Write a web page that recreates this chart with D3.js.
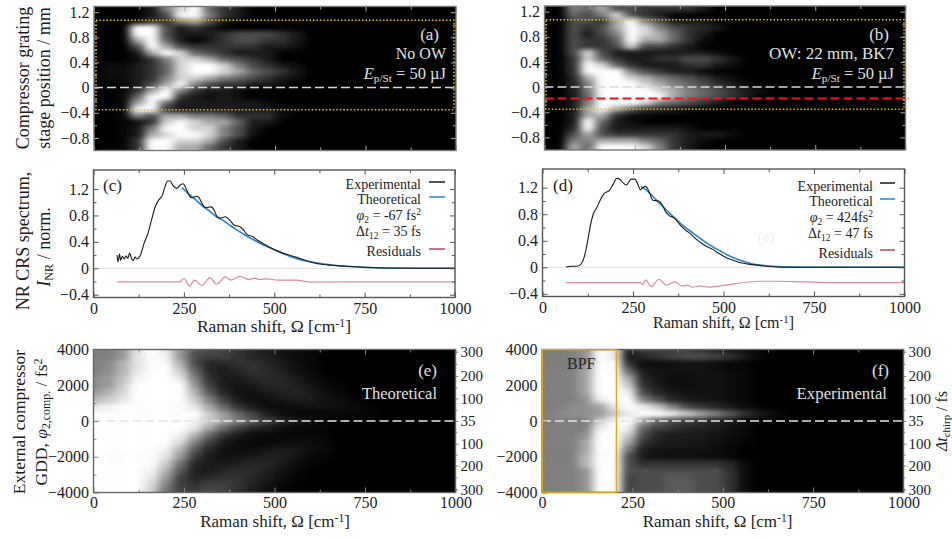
<!DOCTYPE html>
<html>
<head>
<meta charset="utf-8">
<script src="https://cdn.jsdelivr.net/npm/d3@7"></script>
<style>
	html, body { margin: 0; background: #fff; }
	text { font-family: "Liberation Serif", serif; }
</style>
</head>
<body>
<script>
// grey level 0 (black) .. 10 (white); a row that stops early is black from there on
const mapShift = [0, 40, 80, 120, 160, 200, 240, 280, 320, 360, 400, 440, 480, 520, 560, 600, 640, 680, 720, 760];

const stageRows = [1.25, 1.15, 1.05, 0.95, 0.85, 0.75, 0.65, 0.55, 0.45, 0.35, 0.25, 0.15, 0.05, -0.05, -0.15, -0.25, -0.35, -0.45, -0.55, -0.65, -0.75, -0.85, -0.95];
const gddRows = [4000, 3600, 3200, 2800, 2400, 2000, 1600, 1200, 800, 400, 0, -400, -800, -1200, -1600, -2000, -2400, -2800, -3200, -3600, -4000];

const mapA = [
	[0, 0, 0, 0, 1, 5, 7, 8, 4, 2, 1],
	[0, 0, 0, 0, 1, 3, 8, 9, 5, 2, 1],
	[0, 0, 0, 0.5, 2, 2, 5, 6, 3, 1],
	[0, 0, 0, 8, 8, 3, 1, 2, 1, 0],
	[0, 0, 0, 8, 9, 3, 1, 1, 1, 2, 3, 3, 3, 2, 1],
	[0, 0, 0, 6, 9, 4, 1, 0, 1, 2, 3, 3, 2, 2, 1],
	[0, 0, 0, 3, 8, 6, 3, 2, 2, 2, 2, 2, 1, 1, 0.5],
	[0, 0, 0, 1, 6, 9, 7, 4, 3, 2, 1, 1, 1],
	[0, 0, 0, 0.5, 2, 5, 7, 7, 6, 4, 3, 2, 1],
	[0, 0.5, 0.5, 1, 2, 4, 7, 9, 9, 7, 5, 3, 2, 1, 0.5],
	[0, 0.5, 0.5, 1, 2, 4, 7, 10, 9, 7, 6, 4, 3, 2, 1],
	[0, 0.5, 0.5, 1, 2, 5, 7, 7, 6, 5, 4, 3, 2, 1, 0.5],
	[0, 0, 0.3, 1, 3, 6, 8, 5, 3, 2, 2, 1, 1, 0.5],
	[0, 0, 0.3, 2, 6, 9, 5, 2, 1, 1, 0.5],
	[0, 0, 0.3, 4, 8, 8, 2, 1, 0.5, 1, 0.5],
	[0, 0, 0.3, 6, 9, 4, 1, 1, 1, 1, 1, 1, 0.5],
	[0, 0, 0.3, 8, 8, 2, 1, 1, 1, 1, 1, 1, 1, 0.5],
	[0, 0, 0.3, 5, 3, 6, 6, 5, 5, 4, 2, 2, 2, 0.5],
	[0, 0, 0.2, 0.5, 2, 7, 8, 7, 6, 6, 4, 1, 1],
	[0, 0, 0.2, 1, 5, 8, 9, 7, 7, 5, 3, 1],
	[0, 0, 0.2, 1, 6, 7, 8, 8, 7, 5, 3, 0.5],
	[0, 0, 0.2, 2, 8, 9, 7, 7, 6, 3, 1],
	[0, 0.2, 0.2, 2, 9, 9, 6, 6, 4, 2, 1]
];

const mapB = [
	[0, 0, 5, 4, 6, 3, 3, 2, 2, 2, 2, 1],
	[0, 0, 4, 3, 5, 7, 3, 2, 1],
	[0, 0, 3, 3, 2, 6, 8, 5, 3, 1, 1, 1],
	[0, 0, 3, 2, 3, 6, 9, 7, 5, 3, 2, 1.5, 1],
	[0, 0, 3, 1, 3, 5, 9, 7, 6, 4, 2, 1],
	[0, 0, 3, 2, 2, 4, 9, 6, 6, 4, 2, 0.5],
	[0, 0, 3, 2, 2, 3, 7, 3, 3, 2, 1],
	[0, 0, 3, 7, 3, 1, 1, 1, 1, 1, 1, 1, 0.5],
	[0, 0, 2, 7, 4, 2, 1, 1, 2, 2, 3, 3, 2, 1],
	[0, 0, 2, 8, 7, 4, 2, 1, 1, 1, 2, 2, 1, 0.5],
	[0, 0, 2, 8, 9, 8, 5, 3, 2, 1, 1, 0.5],
	[0, 0, 1.5, 6, 9, 10, 7, 6, 5, 4, 3, 2, 1, 0.5],
	[0, 0, 1.5, 5, 9, 10, 9, 7, 6, 5, 4, 3, 2, 1, 0.5],
	[0, 0, 1, 5, 10, 10, 10, 9, 7, 6, 5, 4, 3, 2, 1, 0.5],
	[0, 0, 1, 4, 10, 10, 10, 9, 8, 6, 5, 4, 3, 2, 1],
	[0, 0, 1, 5, 9, 10, 9, 7, 5, 4, 3, 2, 1],
	[0, 0, 1, 6, 9, 6, 4, 2, 1.5, 1, 0.5],
	[0, 0, 1, 6, 6, 2, 0.5, 0.3],
	[0, 0, 1, 8, 4, 1, 0.5],
	[0, 0, 1.5, 8, 3, 1, 1, 1, 1, 1, 0.5],
	[0, 0, 3, 6, 3, 2, 2, 2, 2, 2, 1, 1, 1, 0.5],
	[0, 0, 5, 5, 6, 6, 6, 5, 4, 2, 1, 0.5],
	[0, 0, 6, 4, 8, 9, 8, 7, 5, 2, 1]
];

const mapE = [
	[5, 5, 6, 9, 10, 9, 6, 3.5, 3, 2.5, 2, 1.5, 1, 0.7, 0.5, 0.3],
	[5, 5, 6, 9, 10, 9.5, 6, 3, 2.5, 2.5, 2, 1.5, 1.2, 0.7, 0.5, 0.3],
	[5, 5.5, 7, 9, 10, 10, 7, 3, 1.5, 1.5, 2, 2, 1.5, 1, 0.6, 0.3],
	[5, 5.5, 7, 9, 10, 10, 8, 4, 1.5, 1, 1.5, 2, 1.7, 1.2, 0.7, 0.4],
	[5.5, 6, 7.5, 9.5, 10, 10, 9, 5, 2, 1, 1, 1.5, 1.7, 1.5, 1, 0.5, 0.2],
	[5.5, 6, 8, 10, 10, 10, 10, 6, 2.5, 1, 0.8, 1, 1.5, 1.5, 1.2, 0.8, 0.4, 0.2],
	[6, 7, 8.5, 10, 10, 10, 10, 7, 3.5, 1.5, 0.7, 0.7, 1, 1.3, 1.3, 1, 0.6, 0.3],
	[7, 8, 9, 10, 10, 10, 10, 8, 5, 2.5, 1, 0.6, 0.6, 0.9, 1.1, 1.1, 0.8, 0.5, 0.2],
	[9, 9.5, 10, 10, 10, 10, 10, 9, 6.5, 4, 2, 1, 0.5, 0.5, 0.6, 0.7, 0.7, 0.6, 0.4, 0.2],
	[10, 10, 10, 10, 10, 10, 10, 10, 8, 6, 4, 2.5, 1.2, 0.6, 0.3, 0.3, 0.3, 0.3, 0.3, 0.2],
	[10, 10, 10, 10, 10, 10, 10, 9.5, 8, 6.5, 5, 3.5, 2.5, 1.5, 1, 0.6, 0.3, 0.2],
	[10, 10, 10, 10, 10, 10, 10, 9, 6.5, 4, 2.5, 1.5, 1, 0.6, 0.3, 0.2, 0.2],
	[10, 10, 10, 10, 10, 10, 9.5, 7, 4, 2, 1, 0.5, 0.3, 0.3, 0.3, 0.3, 0.2],
	[10, 10, 10, 10, 10, 10, 8.5, 5, 2.5, 1, 0.5, 0.3, 0.3, 0.5, 0.6, 0.5, 0.3],
	[10, 10, 10, 10, 10, 9.5, 7, 3.5, 1.5, 0.7, 0.5, 0.5, 0.8, 1, 0.9, 0.6, 0.3],
	[10, 10, 10, 10, 10, 9, 6, 2.5, 1, 0.7, 0.8, 1, 1.2, 1.2, 0.8, 0.4, 0.2],
	[10, 10, 10, 10, 10, 8, 4.5, 1.5, 1, 1, 1.2, 1.5, 1.5, 1, 0.5, 0.2],
	[10, 10, 10, 10, 9.5, 7, 3.5, 1.2, 1, 1.5, 1.8, 1.7, 1.2, 0.7, 0.3],
	[10, 10, 10, 10, 9, 6, 2.5, 1.5, 1.7, 2, 2, 1.5, 1, 0.5, 0.2],
	[10, 10, 10, 10, 8.5, 5, 2.5, 2, 2.5, 2.5, 2, 1.2, 0.7, 0.3],
	[10, 10, 10, 10, 8, 4.5, 2.5, 2.5, 3, 2.5, 1.7, 1, 0.5, 0.2]
];

const mapF = [
	[5, 5, 5, 5.5, 9, 8, 1.5, 2.5, 2.5, 2.5, 2.5, 2, 1.5, 1, 0.5, 0.2],
	[5, 5, 5, 5.5, 9, 8, 1, 1.5, 2, 2.5, 3, 3, 2.5, 2, 1, 0.3],
	[5, 5, 5, 5.5, 9, 9, 2, 0.5, 0.5, 0.5, 0.7, 0.7, 0.5, 0.3, 0.2],
	[5, 5, 5, 6, 9.5, 10, 4, 1, 0.8, 0.8, 0.8, 0.8, 0.7, 0.4, 0.3],
	[5, 5, 5, 6, 9.5, 10, 6, 1.5, 0.8, 0.6, 0.6, 0.7, 0.7, 0.5, 0.3],
	[5, 5, 5, 6, 9.5, 10, 7, 2, 1, 0.6, 0.6, 0.7, 0.7, 0.5, 0.3],
	[5, 5, 5, 6, 9, 10, 8, 3, 1.5, 1, 0.7, 0.7, 0.7, 0.5, 0.3],
	[5, 5, 5, 5.5, 8, 10, 9, 5, 3, 1.5, 1, 0.9, 0.8, 0.5, 0.3],
	[5, 5, 5.3, 5.5, 6, 8, 9, 8, 7, 5, 3, 2, 1.5, 1, 0.5, 0.2],
	[5, 5.2, 5.5, 5.5, 5.8, 7, 8, 8.5, 9, 8, 7, 6, 5, 3.5, 2, 1, 0.5],
	[5, 5, 5, 5, 7, 9, 9, 6, 4, 3, 2.5, 2, 1.5, 1, 0.5, 0.2],
	[5, 5, 5, 5, 8, 10, 8, 4, 2.5, 2, 1.5, 1.2, 1, 0.7, 0.3],
	[5, 5, 5, 5.5, 9, 10, 7, 3, 1.5, 1, 1, 1, 0.8, 0.5, 0.3],
	[5, 5, 5, 6, 9.5, 10, 6, 2, 1.2, 1, 1, 0.9, 0.7, 0.4, 0.2],
	[5, 5, 5, 6, 9.5, 9.5, 4.5, 1.2, 0.8, 0.7, 0.7, 0.7, 0.5, 0.3],
	[5, 5, 5, 6.5, 10, 9, 3, 1, 0.7, 0.7, 0.7, 0.6, 0.5, 0.3],
	[5, 5, 5, 6.5, 10, 9, 3, 2, 2, 2, 2, 2, 2, 1.5, 0.5],
	[5, 5, 5, 5.5, 10, 9, 3, 3, 3, 3, 3, 3, 3, 2, 0.5],
	[5, 5, 5, 5.5, 10, 9, 2.5, 3, 3, 3.5, 3.5, 3, 3, 2, 0.5],
	[5, 5, 5, 5.5, 10, 9, 2.5, 3, 3, 3.5, 3.5, 3, 3, 2, 0.5],
	[5, 5, 5, 5.5, 10, 9, 2.5, 3, 3, 3.5, 3.5, 3, 3, 2, 0.5]
];

// spectra, [Raman shift, intensity]
const expC = [[65, 0.2], [68, 0.1], [72, 0.22], [75, 0.12], [80, 0.18], [85, 0.14], [90, 0.19], [95, 0.15], [100, 0.23], [105, 0.15], [110, 0.12], [115, 0.17], [120, 0.14], [130, 0.2], [140, 0.38], [150, 0.52], [160, 0.72], [170, 0.92], [180, 1.03], [190, 1.1], [197, 1.22], [205, 1.32], [212, 1.32], [220, 1.25], [230, 1.21], [240, 1.26], [248, 1.28], [255, 1.22], [265, 1.1], [272, 1.07], [285, 1.09], [292, 1.07], [300, 0.98], [310, 0.92], [325, 0.93], [332, 0.9], [342, 0.78], [350, 0.76], [365, 0.78], [375, 0.74], [390, 0.65], [405, 0.63], [415, 0.58], [425, 0.51], [440, 0.48], [455, 0.42], [470, 0.37], [490, 0.31], [510, 0.26], [530, 0.22], [560, 0.17], [590, 0.11], [620, 0.07], [660, 0.045], [700, 0.03], [750, 0.015], [800, 0.005], [900, 0], [1000, 0]];
const fitC = [[245, 1.22], [260, 1.14], [280, 1.05], [300, 0.95], [320, 0.87], [340, 0.78], [360, 0.72], [380, 0.64], [400, 0.57], [420, 0.5], [440, 0.44], [460, 0.38], [480, 0.33], [500, 0.28], [530, 0.21], [560, 0.15], [590, 0.11], [620, 0.08], [660, 0.05], [700, 0.03], [750, 0.015], [800, 0.005], [900, 0], [1000, 0]];
const resC = [[65, -0.205], [240, -0.205], [247, -0.16], [252, -0.16], [265, -0.27], [280, -0.18], [300, -0.26], [322, -0.14], [340, -0.24], [365, -0.13], [380, -0.18], [405, -0.12], [430, -0.17], [445, -0.15], [460, -0.17], [480, -0.16], [510, -0.18], [560, -0.18], [600, -0.21], [700, -0.205], [1000, -0.205]];

const expD = [[65, 0.005], [80, 0.015], [95, 0.015], [105, 0.04], [115, 0.15], [125, 0.4], [132, 0.62], [140, 0.8], [150, 0.9], [160, 1.02], [170, 1.11], [185, 1.16], [195, 1.25], [205, 1.34], [215, 1.32], [225, 1.26], [232, 1.24], [245, 1.33], [255, 1.33], [265, 1.23], [270, 1.17], [277, 1.2], [285, 1.22], [295, 1.13], [305, 1.01], [320, 1], [330, 0.95], [340, 0.84], [350, 0.78], [365, 0.74], [380, 0.64], [395, 0.56], [410, 0.5], [425, 0.42], [440, 0.36], [455, 0.31], [470, 0.27], [490, 0.2], [510, 0.14], [530, 0.1], [555, 0.06], [580, 0.04], [610, 0.02], [650, 0.005], [700, 0], [1000, 0]];
const fitD = [[272, 1.22], [290, 1.15], [310, 1.04], [330, 0.93], [350, 0.82], [370, 0.72], [390, 0.62], [410, 0.54], [430, 0.46], [450, 0.38], [470, 0.31], [490, 0.25], [510, 0.19], [530, 0.14], [550, 0.1], [580, 0.05], [610, 0.03], [650, 0.01], [700, 0.003], [800, 0], [1000, 0]];
const resD = [[65, -0.23], [270, -0.23], [277, -0.26], [285, -0.19], [300, -0.29], [322, -0.18], [342, -0.27], [365, -0.22], [385, -0.28], [400, -0.27], [415, -0.3], [435, -0.28], [460, -0.3], [490, -0.28], [530, -0.25], [600, -0.21], [650, -0.21], [720, -0.22], [800, -0.23], [1000, -0.23]];

const shiftMajor = [0, 250, 500, 750, 1000];
const shiftMinor = [125, 375, 625, 875];
const stageMajor = [1.2, 0.8, 0.4, 0, -0.4, -0.8];
const stageMinor = [1.0, 0.6, 0.2, -0.2, -0.6];
const spectrumMajor = [1.2, 0.8, 0.4, 0, -0.4];
const spectrumMinor = [1.0, 0.6, 0.2, -0.2];
const gddMajor = [4000, 2000, 0, -2000, -4000];
const gddMinor = [3000, 1000, -1000, -3000];
// the Δt axis is not linear in GDD, so each label sits at its own GDD
const chirpGdd = [3880, 2510, 1260, 0, -1270, -2500, -3840];
const chirpLabels = ["300", "200", "100", "35", "100", "200", "300"];
const chirpMinor = [3200, 1880, 630, -630, -1880, -3150];

const svg = d3.select("body").append("svg")
	.attr("width", 952)
	.attr("height", 539)
	.style("display", "block");

const defs = svg.append("defs");
defs.append("filter")
	.attr("id", "mapBlur")
	.attr("filterUnits", "userSpaceOnUse")
	.attr("x", 0).attr("y", 0).attr("width", 952).attr("height", 539)
	.attr("color-interpolation-filters", "sRGB")
	.append("feGaussianBlur")
	.attr("stdDeviation", "5 2");

// blur eats the narrow ridges, so the measured maps reach white a little early
const greyStage = d3.scaleLinear().domain([0, 5, 8]).range(["#000", "#808080", "#fff"]).clamp(true);
const greyTheory = d3.scaleLinear().domain([0, 10]).range(["#000", "#fff"]);
const greyExp = d3.scaleLinear().domain([0, 5, 8.5]).range(["#000", "#808080", "#fff"]).clamp(true);

const formatLabel = d => d === 0 ? "0" : (Math.abs(d) >= 10 ? d3.format("d")(d) : d3.format(".1f")(d));
const tickFont = 16;

// text with italic / sub / sup pieces: [string, "i" | "sub" | "sup" | "isub"...]
function rich(sel, parts) {
	let shift = 0;
	parts.forEach(([txt, kind = ""]) => {
		const ts = sel.append("tspan").text(txt);
		let want = 0;
		if (kind.includes("sub")) { want = 3; ts.attr("font-size", "0.68em"); }
		if (kind.includes("sup")) { want = -5; ts.attr("font-size", "0.68em"); }
		if (kind.includes("i")) ts.attr("font-style", "italic");
		if (want !== shift) ts.attr("dy", want - shift);
		shift = want;
	});
	return sel;
}

function label(g, x, y, parts, opts = {}) {
	const t = g.append("text")
		.attr("x", x)
		.attr("y", y)
		.attr("font-size", opts.size || 16)
		.attr("fill", opts.fill || "#1c1c1c")
		.attr("text-anchor", opts.anchor || "end");
	if (opts.rotate) t.attr("transform", `rotate(-90, ${x}, ${y})`);
	if (typeof parts === "string") t.text(parts);
	else rich(t, parts);
	return t;
}

function drawAxes(g, x, y, cfg) {
	const inner = cfg.tickColor;
	const addAxis = (axis, transform, labelled, size) => {
		const a = g.append("g").attr("transform", transform).call(axis);
		a.select(".domain").remove();
		a.selectAll("line").attr("stroke", inner).attr("stroke-width", 1);
		a.selectAll("text")
			.attr("font-family", "Liberation Serif")
			.attr("font-size", size || tickFont)
			.attr("fill", "#1c1c1c");
		if (!labelled) a.selectAll("text").remove();
		return a;
	};
	const [x0, x1] = x.range();
	const [y0, y1] = y.range();

	// bottom / top
	addAxis(d3.axisBottom(x).tickValues(shiftMajor).tickSize(-5).tickPadding(cfg.xPad).tickFormat(d3.format("d")), `translate(0, ${y0})`, cfg.xLabels);
	addAxis(d3.axisBottom(x).tickValues(shiftMinor).tickSize(-3), `translate(0, ${y0})`, false);
	addAxis(d3.axisTop(x).tickValues(shiftMajor).tickSize(-5), `translate(0, ${y1})`, false);
	addAxis(d3.axisTop(x).tickValues(shiftMinor).tickSize(-3), `translate(0, ${y1})`, false);

	// left / right
	addAxis(d3.axisLeft(y).tickValues(cfg.yMajor).tickSize(-5).tickPadding(4.5).tickFormat(formatLabel), `translate(${x0}, 0)`, true);
	addAxis(d3.axisLeft(y).tickValues(cfg.yMinor).tickSize(-3), `translate(${x0}, 0)`, false);
	if (cfg.chirp) {
		addAxis(d3.axisRight(y).tickValues(chirpGdd).tickSize(3).tickPadding(2).tickFormat((d, i) => chirpLabels[i]), `translate(${x1}, 0)`, true, 15);
		addAxis(d3.axisRight(y).tickValues(chirpMinor).tickSize(2), `translate(${x1}, 0)`, false);
	} else {
		addAxis(d3.axisRight(y).tickValues(cfg.yMajor).tickSize(-5), `translate(${x1}, 0)`, false);
		addAxis(d3.axisRight(y).tickValues(cfg.yMinor).tickSize(-3), `translate(${x1}, 0)`, false);
	}

	g.append("rect")
		.attr("x", x0).attr("y", y1)
		.attr("width", x1 - x0).attr("height", y0 - y1)
		.attr("fill", "none")
		.attr("stroke", cfg.frameColor)
		.attr("stroke-width", 1.4);
}

function drawMap(name, box, rows, grid, yDomain, grey) {
	const g = svg.append("g").attr("id", name);
	const x = d3.scaleLinear().domain([0, 1000]).range([box.x0, box.x1]);
	const y = d3.scaleLinear().domain(yDomain).range([box.y1, box.y0]);

	const clipId = `clip-${name}`;
	defs.append("clipPath").attr("id", clipId).append("rect")
		.attr("x", box.x0).attr("y", box.y0)
		.attr("width", box.x1 - box.x0).attr("height", box.y1 - box.y0);

	g.append("rect")
		.attr("x", box.x0).attr("y", box.y0)
		.attr("width", box.x1 - box.x0).attr("height", box.y1 - box.y0)
		.attr("fill", "#000");

	const colStep = mapShift[1] - mapShift[0];
	const rowStep = Math.abs(rows[1] - rows[0]);
	const cells = [];
	grid.forEach((row, r) => row.forEach((v, c) => cells.push({ r, c, v })));

	// outer cells run past the frame so the blur doesn't fade at the edges
	g.append("g").attr("clip-path", `url(#${clipId})`)
		.append("g").attr("filter", "url(#mapBlur)")
		.selectAll("rect")
		.data(cells)
		.join("rect")
		.attr("x", d => x(mapShift[d.c] - colStep / 2) - (d.c === 0 ? 20 : 0))
		.attr("width", d => x(colStep) - x(0) + 0.5 + (d.c === 0 ? 20 : 0))
		.attr("y", d => y(rows[d.r] + rowStep / 2) - (d.r === 0 ? 20 : 0))
		.attr("height", d => y(0) - y(rowStep) + 0.5 + (d.r === 0 || d.r === rows.length - 1 ? 20 : 0))
		.attr("fill", d => grey(d.v));

	return { g, x, y };
}

function drawSpectrum(name, box, yZero, y12, series) {
	const g = svg.append("g").attr("id", name);
	const x = d3.scaleLinear().domain([0, 1000]).range([box.x0, box.x1]);
	const unit = (yZero - y12) / 1.2;
	const y = d3.scaleLinear()
		.domain([(yZero - box.y1) / unit, (yZero - box.y0) / unit])
		.range([box.y1, box.y0]);

	g.append("line")
		.attr("x1", x(0)).attr("x2", x(1000))
		.attr("y1", y(0)).attr("y2", y(0))
		.attr("stroke", "#aaa")
		.attr("stroke-width", 0.8)
		.attr("stroke-dasharray", "1 1");

	const line = d3.line().x(d => x(d[0])).y(d => y(d[1])).curve(d3.curveMonotoneX);
	series.forEach(s => {
		g.append("path")
			.datum(s.data)
			.attr("d", line)
			.attr("fill", "none")
			.attr("stroke", s.color)
			.attr("stroke-width", s.width);
	});
	return { g, x, y };
}

function dashLine(g, x, yv, color, x1, width) {
	g.append("line")
		.attr("x1", x.range()[0]).attr("x2", x1 || x.range()[1])
		.attr("y1", yv).attr("y2", yv)
		.attr("stroke", color)
		.attr("stroke-width", width || 1.5)
		.attr("stroke-dasharray", "9 4");
}

function dottedBox(g, x0, x1, y0, y1) {
	g.append("rect")
		.attr("x", x0).attr("y", y0)
		.attr("width", x1 - x0).attr("height", y1 - y0)
		.attr("fill", "none")
		.attr("stroke", "#e8b90a")
		.attr("stroke-width", 1.5)
		.attr("stroke-dasharray", "1.5 2");
}

function legendLine(g, x0, x1, yv, color) {
	g.append("line")
		.attr("x1", x0).attr("x2", x1)
		.attr("y1", yv).attr("y2", yv)
		.attr("stroke", color)
		.attr("stroke-width", 1.5);
}

// ---- (a)
const boxA = { x0: 94, x1: 456, y0: 6.5, y1: 150.5 };
const stageDomain = [-1.0, 1.29];
const a = drawMap("panel-a", boxA, stageRows, mapA, stageDomain, greyStage);
dottedBox(a.g, 96, 454, a.y(1.07), a.y(-0.35));
dashLine(a.g, a.x, a.y(0), "#d8d8d8");
label(a.g, 439, 40, "(a)", { fill: "#e0e0e0", size: 17 });
label(a.g, 446, 59, "No OW", { fill: "#e0e0e0" });
label(a.g, 446, 79, [["E", "i"], ["p/St", "sub"], [" = 50 µJ"]], { fill: "#e0e0e0", size: 16.5 });
drawAxes(a.g, a.x, a.y, { yMajor: stageMajor, yMinor: stageMinor, tickColor: "#aaa", frameColor: "#777", xLabels: false, xPad: 0 });
label(a.g, 29, 78, "Compressor grating", { rotate: true, anchor: "middle", size: 18 });
label(a.g, 50, 78, "stage position / mm", { rotate: true, anchor: "middle", size: 18 });

// ---- (b)
const boxB = { x0: 544.5, x1: 905.5, y0: 6, y1: 150 };
const b = drawMap("panel-b", boxB, stageRows, mapB, stageDomain, greyStage);
dottedBox(b.g, 546, 904, b.y(1.07), b.y(-0.35));
dashLine(b.g, b.x, b.y(0), "#d8d8d8");
dashLine(b.g, b.x, Math.round(b.y(-0.17)) + 0.5, "#f0141c", 909, 1.8);
label(b.g, 889, 40, "(b)", { fill: "#e0e0e0", size: 17 });
label(b.g, 894, 59, "OW: 22 mm, BK7", { fill: "#e0e0e0", size: 17 });
label(b.g, 894, 79, [["E", "i"], ["p/St", "sub"], [" = 50 µJ"]], { fill: "#e0e0e0", size: 16.5 });
drawAxes(b.g, b.x, b.y, { yMajor: stageMajor, yMinor: stageMinor, tickColor: "#aaa", frameColor: "#777", xLabels: false, xPad: 0 });

// ---- (c)
const colBlack = "#1a1a1a", colBlue = "#2a86c8", colRes = "#d98aa3", colResKey = "#c4405f";
const c = drawSpectrum("panel-c", { x0: 93.5, x1: 455, y0: 170, y1: 297.5 }, 268.3, 189, [
	{ data: resC, color: colRes, width: 1.2 },
	{ data: fitC, color: colBlue, width: 1.6 },
	{ data: expC, color: colBlack, width: 1.1 }
]);
drawAxes(c.g, c.x, c.y, { yMajor: spectrumMajor, yMinor: spectrumMinor, tickColor: "#555", frameColor: "#555", xLabels: true, xPad: 5 });
label(c.g, 103, 191, "(c)", { anchor: "start", size: 17 });
label(c.g, 421, 189, "Experimental", { size: 14 });
label(c.g, 421, 204, "Theoretical", { size: 14 });
label(c.g, 421, 219.5, [["φ", "i"], ["2", "sub"], [" = -67 fs"], ["2", "sup"]], { size: 14 });
label(c.g, 421, 236, [["Δ"], ["t", "i"], ["12", "sub"], [" = 35 fs"]], { size: 14 });
label(c.g, 421, 256, "Residuals", { size: 14 });
legendLine(c.g, 429, 445, 182, colBlack);
legendLine(c.g, 429, 445, 197, colBlue);
legendLine(c.g, 429, 445, 249, colResKey);
label(c.g, 274, 331.5, [["Raman shift, Ω [cm"], ["-1", "sup"], ["]"]], { anchor: "middle", size: 17.5 });
label(c.g, 29, 241, "NR CRS spectrum,", { rotate: true, anchor: "middle", size: 18 });
label(c.g, 50, 247, [["I", "i"], ["NR", "sub"], ["  / norm."]], { rotate: true, anchor: "middle", size: 18 });

// ---- (d)
const d_ = drawSpectrum("panel-d", { x0: 542.5, x1: 904.5, y0: 169, y1: 296.5 }, 267.3, 187.7, [
	{ data: resD, color: colRes, width: 1.2 },
	{ data: fitD, color: colBlue, width: 1.6 },
	{ data: expD, color: colBlack, width: 1.1 }
]);
drawAxes(d_.g, d_.x, d_.y, { yMajor: spectrumMajor, yMinor: spectrumMinor, tickColor: "#555", frameColor: "#555", xLabels: true, xPad: 5 });
label(d_.g, 553, 191, "(d)", { anchor: "start", size: 17 });
label(d_.g, 873, 191, "Experimental", { size: 14 });
label(d_.g, 873, 206, "Theoretical", { size: 14 });
label(d_.g, 873, 221.5, [["φ", "i"], ["2", "sub"], [" = 424fs"], ["2", "sup"]], { size: 14 });
label(d_.g, 873, 238, [["Δ"], ["t", "i"], ["12", "sub"], [" = 47 fs"]], { size: 14 });
label(d_.g, 873, 258, "Residuals", { size: 14 });
legendLine(d_.g, 880, 895, 183, colBlack);
legendLine(d_.g, 880, 895, 199, colBlue);
legendLine(d_.g, 880, 895, 250, colResKey);
label(d_.g, 766, 242, "(e)", { anchor: "middle", fill: "#f0f0f0", size: 15 });
label(d_.g, 723.5, 328, [["Raman shift, Ω [cm"], ["-1", "sup"], ["]"]], { anchor: "middle", size: 16 });

// ---- (e)
const boxE = { x0: 93.5, x1: 455.5, y0: 349.5, y1: 492.5 };
const gddDomain = [-4000, 4000];
const e = drawMap("panel-e", boxE, gddRows, mapE, gddDomain, greyTheory);
dashLine(e.g, e.x, e.y(0), "#e4e4e4");
label(e.g, 437, 376, "(e)", { fill: "#e0e0e0", size: 17 });
label(e.g, 437, 399, "Theoretical", { fill: "#e0e0e0", size: 16.5 });
drawAxes(e.g, e.x, e.y, { yMajor: gddMajor, yMinor: gddMinor, tickColor: "#888", frameColor: "#666", xLabels: true, xPad: 4, chirp: true });
label(e.g, 275, 527, [["Raman shift, Ω [cm"], ["-1", "sup"], ["]"]], { anchor: "middle", size: 17 });
label(e.g, 25, 422, "External compressor", { rotate: true, anchor: "middle", size: 17.5 });
label(e.g, 47, 422, [["GDD, "], ["φ", "i"], ["2,comp.", "sub"], [" / fs"], ["2", "sup"]], { rotate: true, anchor: "middle", size: 17.5 });

// ---- (f)
const boxF = { x0: 542, x1: 903.5, y0: 349.5, y1: 492.5 };
const f = drawMap("panel-f", boxF, gddRows, mapF, gddDomain, greyExp);
dashLine(f.g, f.x, f.y(0), "#e4e4e4");
label(f.g, 567, 369, "BPF", { anchor: "start", fill: "#222" });
label(f.g, 889, 376, "(f)", { fill: "#e0e0e0", size: 17 });
label(f.g, 887, 399, "Experimental", { fill: "#e0e0e0", size: 16.8 });
drawAxes(f.g, f.x, f.y, { yMajor: gddMajor, yMinor: gddMinor, tickColor: "#888", frameColor: "#666", xLabels: true, xPad: 4, chirp: true });
// band-pass box goes over the frame, it shows on all four sides
f.g.append("rect")
	.attr("x", f.x(0) + 0.3).attr("y", boxF.y0 + 0.3)
	.attr("width", f.x(205) - f.x(0)).attr("height", boxF.y1 - boxF.y0 - 0.6)
	.attr("fill", "none")
	.attr("stroke", "#dfa81a")
	.attr("stroke-width", 1.4);
label(f.g, 717.5, 527, [["Raman shift, Ω [cm"], ["-1", "sup"], ["]"]], { anchor: "middle", size: 17 });
label(f.g, 947, 421, [["Δt", "i"], ["chirp", "sub"], [" / fs"]], { rotate: true, anchor: "middle" });
</script>
</body>
</html>
